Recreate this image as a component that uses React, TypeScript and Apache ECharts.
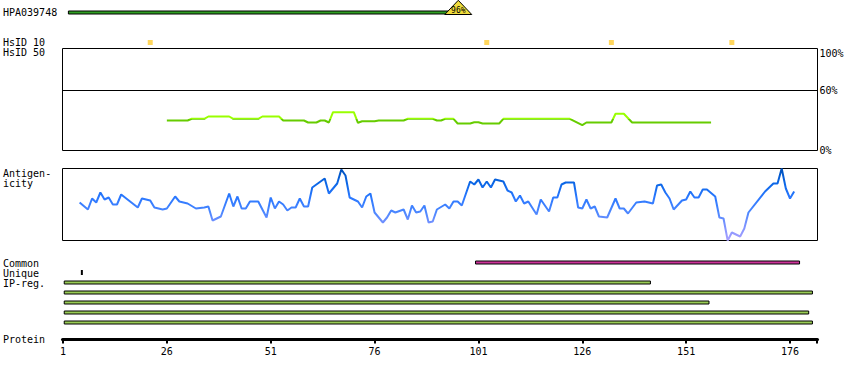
import React, { useEffect, useRef } from "react";
import * as echarts from "echarts";

// ---------- data ----------
const antibodyName = "HPA039748";
const antigenRegion = [2.3, 99.4]; // residues covered by the antigen
const antigenIdentity = 96; // %
const hsid10Residues = [22, 103, 133, 162];

const hsid50Residues = [26, 31, 32, 35, 36, 41, 42, 48, 49, 53, 54, 59, 60, 62, 63, 64, 65, 66, 71, 72, 73, 76, 77, 83, 84, 90, 91, 92, 93, 95, 96, 99, 100, 101, 102, 106, 107, 123, 126, 127, 133, 134, 136, 138, 157];
const hsid50Values = [30, 30, 31.7, 31.7, 34, 34, 31.7, 31.7, 34, 34, 30, 30, 28, 28, 30, 30, 28, 38.3, 38.3, 27.7, 29.3, 29.3, 30, 30, 31.7, 31.7, 30, 30, 31.7, 31.7, 27, 27, 28.3, 28.3, 27, 27, 31.7, 31.7, 25.3, 28, 28, 36.7, 36.7, 28, 28];

const antigenicityResidues = [5, 7, 8, 9, 10, 11, 12, 13, 14, 15, 19, 20, 22, 23, 25, 26, 28, 29, 31, 33, 35, 36, 37, 39, 41, 42, 43, 44, 45, 46, 48, 50, 51, 52, 53, 54, 55, 56, 57, 58, 59, 60, 61, 62, 64, 65, 67, 68, 69, 70, 72, 73, 74, 75, 76, 78, 79, 80, 81, 83, 84, 85, 86, 87, 88, 89, 90, 91, 93, 94, 95, 96, 97, 99, 100, 101, 102, 103, 104, 105, 107, 108, 109, 110, 111, 112, 113, 115, 116, 118, 119, 120, 121, 122, 123, 124, 125, 126, 127, 128, 129, 130, 132, 134, 135, 136, 137, 139, 141, 143, 144, 145, 146, 147, 148, 150, 151, 152, 153, 154, 155, 156, 158, 159, 160, 161, 162, 164, 165, 166, 170, 172, 173, 174, 175, 176, 177];
const antigenicityValues = [38, 31, 42, 38, 48, 41, 43, 36, 36, 46, 33, 42, 40, 33, 31, 32, 44, 39, 37, 32, 33, 34, 20, 24, 47, 34, 44, 32, 32, 39, 39, 23, 43, 32, 39, 36, 30, 33, 33, 42, 34, 34, 53, 56, 62, 47, 57, 71, 65, 43, 39, 33, 44, 47, 28, 18, 23, 30, 28, 31, 21, 35, 28, 29, 35, 18, 19, 31, 36, 32, 39, 39, 35, 59, 56, 61, 53, 59, 53, 61, 59, 50, 48, 39, 45, 37, 39, 26, 41, 29, 43, 43, 56, 58, 58, 58, 33, 32, 41, 32, 34, 24, 23, 42, 32, 32, 27, 38, 39, 37, 55, 56, 48, 42, 31, 40, 41, 49, 43, 43, 51, 51, 44, 23, 22, 0, 8, 4, 12, 28, 49, 57, 57, 72, 52, 42, 49];

const commonRegions = [[100.3, 178.3]];
const uniqueRegions = [[5.3, 5.7]];
const ipRegions = [[1.3, 142.4], [1.3, 181.4], [1.3, 156.5], [1.3, 180.5], [1.3, 181.4]];
const trackRows = ["Common", "Unique", "IP1", "IP2", "IP3", "IP4", "IP5"];

const proteinTicks = [1, 26, 51, 76, 101, 126, 151, 176];
const proteinEnd = 182.5;
const identityTicks = [0, 60, 100];
const identityThreshold = 60;

// ---------- layout ----------
const FONT = '"DejaVu Sans Mono", monospace';
const X_MIN = 0.88;
const X_MAX = 182.62;
const L = 62.5;
const R = 32.5;

function regionRenderer(fill: string, h: number, stroke: boolean) {
  return (params: any, api: any) => {
    const s = api.coord([api.value(0), api.value(2)]);
    const e = api.coord([api.value(1), api.value(2)]);
    const w = Math.max(2, e[0] - s[0]);
    return {
      type: "rect",
      shape: { x: s[0], y: s[1] - h / 2, width: w, height: h },
      style: stroke ? { fill, stroke: "#000", lineWidth: 1 } : { fill },
    };
  };
}

export default function App() {
  const ref = useRef<HTMLDivElement>(null);
  useEffect(() => {
    document.body.style.margin = "0";
    const chart = echarts.init(ref.current!, null, { renderer: "svg" });
    const grids = [
      { left: L, right: R, top: 7.5, height: 10 },
      { left: L, right: R, top: 37.5, height: 10 },
      { left: L, right: R, top: 48.5, height: 102, show: true, borderColor: "#000", borderWidth: 1, backgroundColor: "transparent" },
      { left: L, right: R, top: 168.5, height: 72, show: true, borderColor: "#000", borderWidth: 1, backgroundColor: "transparent" },
      { left: L, right: R, top: 257.5, height: 70 },
      { left: L, right: R, top: 337.5, height: 2 },
    ];
    const xAxes = grids.map((g, i) =>
      i === 5
        ? {
            type: "value",
            gridIndex: i,
            min: X_MIN,
            max: X_MAX,
            splitLine: { show: false },
            axisLine: { show: true, onZero: false, lineStyle: { color: "#000", width: 3 } },
            axisTick: { show: true, customValues: [...proteinTicks, proteinEnd], length: 4, lineStyle: { color: "#000", width: 2 } },
            axisLabel: { show: true, customValues: proteinTicks, margin: 7, color: "#000", fontFamily: FONT, fontSize: 10 },
          }
        : { type: "value", gridIndex: i, min: X_MIN, max: X_MAX, show: false, splitLine: { show: false } }
    );
    const yAxes: any[] = [
      { type: "category", gridIndex: 0, data: [antibodyName], show: false },
      { type: "category", gridIndex: 1, data: ["HsID 10"], show: false },
      {
        type: "value",
        gridIndex: 2,
        min: 0,
        max: 102,
        position: "right",
        splitLine: { show: false },
        axisLine: { show: false },
        axisTick: { show: false },
        axisLabel: {
          customValues: identityTicks,
          margin: 2,
          color: "#000",
          fontFamily: FONT,
          fontSize: 10,
          formatter: (v: number) => (v === 100 ? "{t|" + v + "%}" : v + "%"),
          rich: { t: { padding: [5, 0, 0, 0], fontFamily: FONT, fontSize: 10, color: "#000" } },
        },
      },
      { type: "value", gridIndex: 3, min: 0, max: 72, show: false, splitLine: { show: false } },
      { type: "category", gridIndex: 4, data: trackRows, inverse: true, show: false },
      { type: "value", gridIndex: 5, min: 0, max: 1, show: false, splitLine: { show: false } },
    ];

    const labels = [
      { text: antibodyName, y: 12.5 },
      { text: "HsID 10", y: 42.5 },
      { text: "HsID 50", y: 52.5 },
      { text: "Antigen-", y: 173.5 },
      { text: "icity", y: 183.5 },
      { text: "Common", y: 263 },
      { text: "Unique", y: 273 },
      { text: "IP-reg.", y: 283 },
      { text: "Protein", y: 339.5 },
    ];

    const option: any = {
      animation: false,
      backgroundColor: "#fff",
      grid: grids,
      xAxis: xAxes,
      yAxis: yAxes,
      visualMap: [
        {
          type: "piecewise",
          show: false,
          seriesIndex: 2,
          dimension: 1,
          pieces: [
            { gte: 0, lt: 31, color: "#66cc00" },
            { gte: 31, lte: 102, color: "#99ff00" },
          ],
        },
        {
          type: "continuous",
          show: false,
          seriesIndex: 3,
          dimension: 1,
          min: 0,
          max: 72,
          inRange: { color: ["#aaa0ff", "#7d93ff", "#4a86ff", "#2a78ff", "#0a66e6", "#0050b8"] },
        },
      ],
      graphic: labels.map((l) => ({
        type: "text",
        x: 3,
        y: l.y,
        style: { text: l.text, fill: "#000", font: "10px " + FONT, verticalAlign: "middle" },
      })),
      series: [
        {
          type: "custom",
          xAxisIndex: 0,
          yAxisIndex: 0,
          data: [[antigenRegion[0], antigenRegion[1], 0, antigenIdentity]],
          renderItem: (params: any, api: any) => {
            const s = api.coord([api.value(0), 0]);
            const e = api.coord([api.value(1), 0]);
            const cy = s[1];
            return {
              type: "group",
              children: [
                { type: "rect", shape: { x: s[0], y: cy - 1.5, width: e[0] - s[0] - 13, height: 3 }, style: { fill: "#2e9e22", stroke: "#000", lineWidth: 1 } },
                { type: "polygon", shape: { points: [[e[0] - 27, cy + 2], [e[0] - 13.5, cy - 12.2], [e[0], cy + 2]] }, style: { fill: "#f0dc3c", stroke: "#000", lineWidth: 1 } },
                { type: "text", x: e[0] - 13.5, y: cy - 2, style: { text: api.value(3) + "%", font: "8px " + FONT, fill: "#000", align: "center", verticalAlign: "middle" } },
              ],
            };
          },
        },
        {
          type: "scatter",
          xAxisIndex: 1,
          yAxisIndex: 1,
          symbol: "rect",
          symbolSize: 5,
          itemStyle: { color: "#ffcc33" },
          data: hsid10Residues.map((r) => [r, 0]),
        },
        {
          type: "line",
          xAxisIndex: 2,
          yAxisIndex: 2,
          showSymbol: false,
          lineStyle: { width: 2 },
          data: hsid50Residues.map((r, i) => [r, hsid50Values[i]]),
          markLine: {
            silent: true,
            symbol: "none",
            label: { show: false },
            lineStyle: { color: "#000", width: 1, type: "solid" },
            data: [{ yAxis: identityThreshold }],
          },
        },
        {
          type: "line",
          xAxisIndex: 3,
          yAxisIndex: 3,
          showSymbol: false,
          lineStyle: { width: 2 },
          data: antigenicityResidues.map((r, i) => [r, antigenicityValues[i]]),
        },
        {
          type: "custom",
          xAxisIndex: 4,
          yAxisIndex: 4,
          data: commonRegions.map((r) => [r[0], r[1], 0]),
          renderItem: regionRenderer("#cc3399", 3, true),
        },
        {
          type: "custom",
          xAxisIndex: 4,
          yAxisIndex: 4,
          data: uniqueRegions.map((r) => [r[0], r[1], 1]),
          renderItem: regionRenderer("#000", 5, false),
        },
        {
          type: "custom",
          xAxisIndex: 4,
          yAxisIndex: 4,
          data: ipRegions.map((r, i) => [r[0], r[1], 2 + i]),
          renderItem: regionRenderer("#99cc55", 3, true),
        },
      ],
    };
    chart.setOption(option);
    return () => chart.dispose();
  }, []);
  return <div ref={ref} style={{ width: 850, height: 380 }} />;
}
